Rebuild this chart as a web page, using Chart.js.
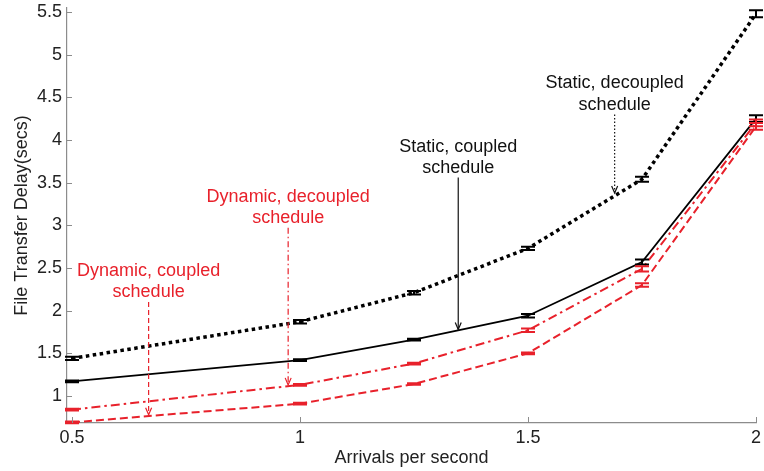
<!DOCTYPE html>
<html>
<head>
<meta charset="utf-8">
<script src="https://cdn.jsdelivr.net/npm/chart.js@4.4.1/dist/chart.umd.min.js"></script>
<style>
  html, body { margin: 0; padding: 0; background: #fff; }
  #wrap { width: 764px; height: 471px; }
</style>
</head>
<body>
<div id="wrap"><canvas id="chart"></canvas></div>
<script>
// arrivals per second
const arrivals = [0.5, 1, 1.25, 1.5, 1.75, 2];

// file transfer delay (secs)
const staticDecoupled  = [1.44, 1.87, 2.21, 2.73, 3.54, 5.48];
const staticCoupled    = [1.17, 1.42, 1.66, 1.94, 2.57, 4.25];
const dynamicDecoupled = [0.84, 1.13, 1.38, 1.77, 2.49, 4.20];
const dynamicCoupled   = [0.69, 0.91, 1.14, 1.50, 2.30, 4.16];

// half width of the error bars
const staticDecoupledErr  = [0.02, 0.02, 0.02, 0.02, 0.03, 0.04];
const staticCoupledErr    = [0.01, 0.01, 0.01, 0.02, 0.03, 0.04];
const dynamicDecoupledErr = [0.01, 0.01, 0.01, 0.02, 0.03, 0.04];
const dynamicCoupledErr   = [0.01, 0.01, 0.01, 0.01, 0.02, 0.04];

const xTicks = [0.5, 1, 1.5, 2];
const yTicks = [1, 1.5, 2, 2.5, 3, 3.5, 4, 4.5, 5, 5.5];

const RED = "#e8212b";
const FONT = "'Liberation Sans', Arial, sans-serif";

// callouts (text + arrow), placed in data units
const notes = [
    { text: ["Static, decoupled", "schedule"], color: "#111", x: 1.69, textY: [4.67, 4.415],
      from: 4.30, to: 3.38, dash: [1.5, 2] },
    { text: ["Static, coupled", "schedule"], color: "#111", x: 1.347, textY: [3.92, 3.675],
      from: 3.56, to: 1.78, dash: [] },
    { text: ["Dynamic, decoupled", "schedule"], color: RED, x: 0.974, textY: [3.336, 3.09],
      from: 2.97, to: 1.13, dash: [6, 3, 1.5, 3] },
    { text: ["Dynamic, coupled", "schedule"], color: RED, x: 0.668, textY: [2.467, 2.22],
      from: 2.10, to: 0.78, dash: [5, 3] }
];

function pts(ys) {
    return arrivals.map((x, i) => ({ x: x, y: ys[i] }));
}

const errBars = [
    { data: staticDecoupled, err: staticDecoupledErr, color: "#000" },
    { data: staticCoupled, err: staticCoupledErr, color: "#000" },
    { data: dynamicDecoupled, err: dynamicDecoupledErr, color: RED },
    { data: dynamicCoupled, err: dynamicCoupledErr, color: RED }
];

// error bars drawn on top of the lines
const errorBarPlugin = {
    id: "errorBars",
    afterDatasetsDraw(chart) {
        const ctx = chart.ctx;
        const xs = chart.scales.x, ys = chart.scales.y;
        ctx.save();
        errBars.forEach(s => {
            ctx.strokeStyle = s.color;
            ctx.lineWidth = 2;
            s.data.forEach((v, i) => {
                const px = xs.getPixelForValue(arrivals[i]);
                const top = ys.getPixelForValue(v + s.err[i]);
                const bot = ys.getPixelForValue(v - s.err[i]);
                ctx.beginPath();
                ctx.moveTo(px, top); ctx.lineTo(px, bot);
                ctx.moveTo(px - 7, top); ctx.lineTo(px + 7, top);
                ctx.moveTo(px - 7, bot); ctx.lineTo(px + 7, bot);
                ctx.stroke();
            });
        });
        ctx.restore();
    }
};

// inward tick marks + callouts
const decorPlugin = {
    id: "decor",
    afterDraw(chart) {
        const ctx = chart.ctx;
        const xs = chart.scales.x, ys = chart.scales.y;
        const a = chart.chartArea;
        ctx.save();
        ctx.strokeStyle = "#8c8c8c";
        ctx.lineWidth = 1;
        yTicks.forEach(v => {
            const py = Math.round(ys.getPixelForValue(v)) + 0.5;
            ctx.beginPath(); ctx.moveTo(a.left, py); ctx.lineTo(a.left + 5, py); ctx.stroke();
        });
        xTicks.forEach(v => {
            const px = Math.round(xs.getPixelForValue(v)) + 0.5;
            ctx.beginPath(); ctx.moveTo(px, a.bottom); ctx.lineTo(px, a.bottom - 6); ctx.stroke();
        });

        ctx.font = "18px " + FONT;
        ctx.textAlign = "center";
        ctx.textBaseline = "middle";
        notes.forEach(n => {
            const px = xs.getPixelForValue(n.x);
            ctx.fillStyle = n.color;
            n.text.forEach((t, i) => ctx.fillText(t, px, ys.getPixelForValue(n.textY[i])));
            const y1 = ys.getPixelForValue(n.from), y2 = ys.getPixelForValue(n.to);
            ctx.strokeStyle = n.color;
            ctx.lineWidth = 1.2;
            ctx.setLineDash(n.dash);
            ctx.beginPath(); ctx.moveTo(px, y1); ctx.lineTo(px, y2); ctx.stroke();
            ctx.setLineDash([]);
            ctx.beginPath();
            ctx.moveTo(px - 3, y2 - 7); ctx.lineTo(px, y2); ctx.lineTo(px + 3, y2 - 7);
            ctx.stroke();
        });
        ctx.restore();
    }
};

new Chart(document.getElementById("chart"), {
    type: "line",
    data: {
        datasets: [
            { label: "Static, decoupled schedule", data: pts(staticDecoupled),
              borderColor: "#000", borderWidth: 3.5, borderDash: [3.5, 3.5] },
            { label: "Static, coupled schedule", data: pts(staticCoupled),
              borderColor: "#000", borderWidth: 1.8 },
            { label: "Dynamic, decoupled schedule", data: pts(dynamicDecoupled),
              borderColor: RED, borderWidth: 2, borderDash: [9, 4, 2.5, 4] },
            { label: "Dynamic, coupled schedule", data: pts(dynamicCoupled),
              borderColor: RED, borderWidth: 2, borderDash: [8, 4] }
        ]
    },
    options: {
        responsive: true,
        maintainAspectRatio: false,
        animation: false,
        datasets: { line: { pointRadius: 0, tension: 0, fill: false, clip: false } },
        layout: { padding: { top: 8, right: 8, left: 0, bottom: 0 } },
        plugins: { legend: { display: false }, tooltip: { enabled: false } },
        scales: {
            x: {
                type: "linear",
                min: 0.489, max: 2,
                afterBuildTicks: s => { s.ticks = xTicks.map(v => ({ value: v })); },
                afterFit: s => { s.height = 48; s.paddingLeft = 0; s.paddingRight = 0; },
                grid: { display: false, drawTicks: false },
                border: { display: true, color: "#8c8c8c", width: 1.2 },
                ticks: { padding: 4, color: "#222", font: { family: FONT, size: 18 },
                         callback: v => String(v), maxRotation: 0, autoSkip: false },
                title: { display: true, text: "Arrivals per second", color: "#222",
                         font: { family: FONT, size: 18 }, padding: { top: 0, bottom: 2 } }
            },
            y: {
                type: "linear",
                min: 0.683, max: 5.547,
                afterBuildTicks: s => { s.ticks = yTicks.map(v => ({ value: v })); },
                afterFit: s => { s.width = 67; s.paddingTop = 0; s.paddingBottom = 0; },
                grid: { display: false, drawTicks: false },
                border: { display: true, color: "#8c8c8c", width: 1.2 },
                ticks: { padding: 5, color: "#222", font: { family: FONT, size: 18 },
                         callback: v => String(v), autoSkip: false },
                title: { display: true, text: "File Transfer Delay(secs)", color: "#222",
                         font: { family: FONT, size: 18 }, padding: { top: 11, bottom: 0 } }
            }
        }
    },
    plugins: [errorBarPlugin, decorPlugin]
});
</script>
</body>
</html>
